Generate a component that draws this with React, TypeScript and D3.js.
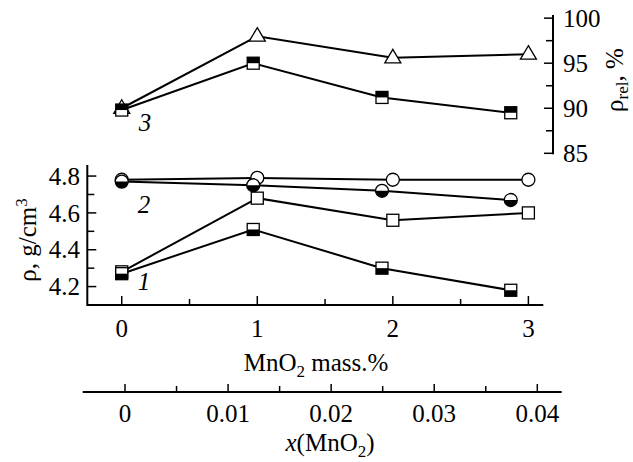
import React from "react";
import * as d3 from "d3";

const massX = [0, 1, 2, 3];
const massXShift = [0, 0.97, 1.92, 2.87];
const relTriangle = [90.0, 98.0, 95.6, 96.0];
const relHalfSquare = [89.8, 95.0, 91.2, 89.5];
const rhoOpenCircle = [4.78, 4.79, 4.78, 4.78];
const rhoHalfCircle = [4.77, 4.75, 4.72, 4.67];
const rhoOpenSquare = [4.28, 4.68, 4.56, 4.6];
const rhoHalfSquare = [4.27, 4.51, 4.3, 4.18];
const massTicks = [0, 1, 2, 3];
const massMinor = [0.5, 1.5, 2.5];
const rhoTicks = [4.2, 4.4, 4.6, 4.8];
const rhoMinor = [4.3, 4.5, 4.7];
const relTicks = [85, 90, 95, 100];
const relMinor = [87.5, 92.5, 97.5];
const moleTicks = [0, 0.01, 0.02, 0.03, 0.04];
const moleMinor = [0.005, 0.015, 0.025, 0.035];

const FONT = '"Liberation Serif", "Times New Roman", serif';
const FS = 25;

export default function App() {
  const x = d3.scaleLinear().domain([-0.254, 3.11]).range([87.3, 543.3]);
  const yRho = d3.scaleLinear().domain([4.1, 4.86]).range([305, 165]);
  const yRel = d3.scaleLinear().domain([85, 100.35]).range([153.3, 15]);
  const xMole = d3.scaleLinear().domain([0, 0.04]).range([125, 537.3]);
  const rightX = 553;

  const line = (xs: number[], ys: number[], ys2: (v: number) => number) =>
    d3.line<number>().x((_, i) => x(xs[i])).y((v) => ys2(v))(ys) || "";

  const sq = 12;
  const r = 6.5;

  const halfSquare = (cx: number, cy: number, topFilled: boolean, key: string) => (
    <g key={key}>
      <rect x={cx - sq / 2} y={cy - sq / 2} width={sq} height={sq} fill="white" stroke="black" strokeWidth={1.3} />
      <rect x={cx - sq / 2} y={topFilled ? cy - sq / 2 : cy} width={sq} height={sq / 2} fill="black" />
    </g>
  );
  const halfCircle = (cx: number, cy: number, key: string) => (
    <g key={key}>
      <circle cx={cx} cy={cy} r={r} fill="white" stroke="black" strokeWidth={1.3} />
      <path d={`M${cx - r},${cy} A${r},${r} 0 0 0 ${cx + r},${cy} Z`} fill="black" />
    </g>
  );
  const triangle = (cx: number, cy: number, key: string) => (
    <path key={key} d={`M${cx},${cy - 8.5} L${cx + 8},${cy + 5} L${cx - 8},${cy + 5} Z`} fill="white" stroke="black" strokeWidth={1.3} />
  );

  const ts: React.CSSProperties = { fontFamily: FONT, fontSize: FS };
  const sub = 17;

  return (
    <svg width={633} height={462} style={{ position: "absolute", left: 0, top: 0, fontFamily: FONT }}>
      <rect width={633} height={462} fill="white" />
      {/* lower panel axes */}
      <line x1={x.range()[0]} x2={x.range()[0]} y1={yRho.range()[1]} y2={yRho.range()[0] + 1} stroke="black" strokeWidth={2} />
      <line x1={x.range()[0]} x2={x.range()[1]} y1={305} y2={305} stroke="black" strokeWidth={2} />
      {rhoTicks.map((t) => (
        <g key={"rt" + t}>
          <line x1={x.range()[0]} x2={x.range()[0] + 9} y1={yRho(t)} y2={yRho(t)} stroke="black" strokeWidth={1.5} />
          <text x={80} y={yRho(t)} dy="0.35em" textAnchor="end" style={ts}>{t.toFixed(1)}</text>
        </g>
      ))}
      {rhoMinor.map((t) => (
        <line key={"rm" + t} x1={x.range()[0]} x2={x.range()[0] + 7} y1={yRho(t)} y2={yRho(t)} stroke="black" strokeWidth={1.5} />
      ))}
      {massTicks.map((t) => (
        <g key={"mt" + t}>
          <line x1={x(t)} x2={x(t)} y1={305} y2={296} stroke="black" strokeWidth={1.5} />
          <text x={x(t)} y={328} dy="0.35em" textAnchor="middle" style={ts}>{t}</text>
        </g>
      ))}
      {massMinor.map((t) => (
        <line key={"mm" + t} x1={x(t)} x2={x(t)} y1={305} y2={299} stroke="black" strokeWidth={1.5} />
      ))}
      <text x={316} y={362} dy="0.35em" textAnchor="middle" style={ts}>
        MnO<tspan fontSize={sub} dy="6">2</tspan><tspan dy="-6"> mass.%</tspan>
      </text>
      <text transform="translate(27,240) rotate(-90)" textAnchor="middle" dy="0.35em" style={ts}>
        ρ, g/cm<tspan fontSize={sub} dy="-9">3</tspan>
      </text>

      {/* upper panel right axis */}
      <line x1={rightX} x2={rightX} y1={yRel.range()[1]} y2={yRel(85) + 1} stroke="black" strokeWidth={2} />
      {relTicks.map((t) => (
        <g key={"lt" + t}>
          <line x1={rightX - 9} x2={rightX} y1={yRel(t)} y2={yRel(t)} stroke="black" strokeWidth={1.5} />
          <text x={563} y={yRel(t)} dy="0.35em" textAnchor="start" style={ts}>{t}</text>
        </g>
      ))}
      {relMinor.map((t) => (
        <line key={"lm" + t} x1={rightX - 7} x2={rightX} y1={yRel(t)} y2={yRel(t)} stroke="black" strokeWidth={1.5} />
      ))}
      <text transform="translate(614,80) rotate(-90)" textAnchor="middle" dy="0.35em" style={ts}>
        ρ<tspan fontSize={sub} dy="5">rel</tspan><tspan dy="-5">, %</tspan>
      </text>

      {/* bottom mole fraction axis */}
      <line x1={82.7} x2={561.7} y1={392} y2={392} stroke="black" strokeWidth={2} />
      {moleTicks.map((t) => (
        <g key={"xt" + t}>
          <line x1={xMole(t)} x2={xMole(t)} y1={392} y2={384} stroke="black" strokeWidth={1.5} />
          <text x={xMole(t)} y={413} dy="0.35em" textAnchor="middle" style={ts}>{t === 0 ? "0" : String(t)}</text>
        </g>
      ))}
      {moleMinor.map((t) => (
        <line key={"xm" + t} x1={xMole(t)} x2={xMole(t)} y1={392} y2={386} stroke="black" strokeWidth={1.5} />
      ))}
      <text x={330} y={442} dy="0.35em" textAnchor="middle" style={ts}>
        <tspan fontStyle="italic">x</tspan>(MnO<tspan fontSize={sub} dy="6">2</tspan><tspan dy="-6">)</tspan>
      </text>

      {/* lines */}
      <g fill="none" stroke="black" strokeWidth={2}>
        <path d={line(massX, relTriangle, yRel)} />
        <path d={line(massXShift, relHalfSquare, yRel)} />
        <path d={line(massX, rhoOpenCircle, yRho)} />
        <path d={line(massXShift, rhoHalfCircle, yRho)} />
        <path d={line(massX, rhoOpenSquare, yRho)} />
        <path d={line(massXShift, rhoHalfSquare, yRho)} />
      </g>

      {/* markers */}
      {relTriangle.map((v, i) => triangle(x(massX[i]), yRel(v), "tr" + i))}
      {relHalfSquare.map((v, i) => halfSquare(x(massXShift[i]), yRel(v), true, "ths" + i))}
      {rhoOpenCircle.map((v, i) => (
        <circle key={"oc" + i} cx={x(massX[i])} cy={yRho(v)} r={r} fill="white" stroke="black" strokeWidth={1.3} />
      ))}
      {rhoHalfCircle.map((v, i) => halfCircle(x(massXShift[i]), yRho(v), "hc" + i))}
      {rhoOpenSquare.map((v, i) => (
        <rect key={"os" + i} x={x(massX[i]) - sq / 2} y={yRho(v) - sq / 2} width={sq} height={sq} fill="white" stroke="black" strokeWidth={1.3} />
      ))}
      {rhoHalfSquare.map((v, i) => halfSquare(x(massXShift[i]), yRho(v), false, "bhs" + i))}

      {/* curve labels */}
      <text x={145} y={122} dy="0.35em" textAnchor="middle" style={{ ...ts, fontStyle: "italic" }}>3</text>
      <text x={144} y={204} dy="0.35em" textAnchor="middle" style={{ ...ts, fontStyle: "italic" }}>2</text>
      <text x={144} y={281} dy="0.35em" textAnchor="middle" style={{ ...ts, fontStyle: "italic" }}>1</text>
    </svg>
  );
}
